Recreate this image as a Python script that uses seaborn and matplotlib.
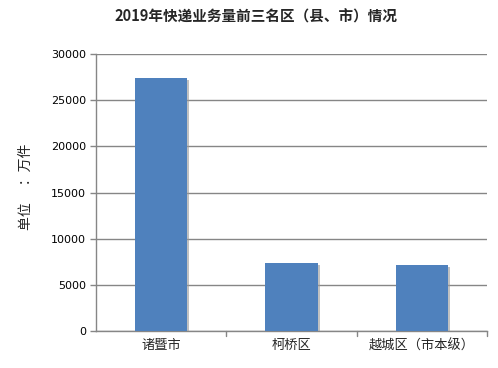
import matplotlib
matplotlib.use("Agg")
import matplotlib.pyplot as plt
import matplotlib.patheffects as pe
import seaborn as sns
import pandas as pd

categories = ["诸暨市", "柯桥区", "越城区（市本级）"]
values = [27400, 7400, 7150]
yticks = [0, 5000, 10000, 15000, 20000, 25000, 30000]
title = "2019年快递业务量前三名区（县、市）情况"
ylabel = "单位　 ：万件"

sns.set_theme(style="white")
plt.rcParams['font.family'] = ['Noto Sans CJK SC', 'DejaVu Sans']

df = pd.DataFrame({"cat": categories, "val": values})

fig = plt.figure(figsize=(4.98, 3.68), dpi=100)
ax = fig.add_axes([96/498, 37/368, (487-96)/498, (331-54)/368])

sns.barplot(data=df, x="cat", y="val", color="#4F81BD", saturation=1, width=0.4, ax=ax, zorder=3)
for p in ax.patches:
    p.set_path_effects([pe.SimplePatchShadow(offset=(1.5, -1.5), shadow_rgbFace="#999999", alpha=0.6), pe.Normal()])
    p.set_edgecolor("none")

ax.set_ylim(0, 30000)
ax.set_xlim(-0.5, 2.5)
ax.set_yticks(yticks)
ax.set_yticklabels([str(v) for v in yticks], fontsize=8, family="DejaVu Sans", color="#000000")
ax.yaxis.grid(True, color="#868686", linewidth=1, zorder=0)
ax.set_axisbelow(True)

ax.set_xticks([0, 1, 2])
ax.set_xticklabels(categories, fontsize=9.5)
ax.tick_params(axis="x", length=0, pad=6)
ax.tick_params(axis="y", length=4, width=1, color="#868686", direction="out", pad=3, left=True)
# category boundary ticks
for xb in [0.5, 1.5, 2.5]:
    ax.plot([xb, xb], [0, -0.018], transform=ax.get_xaxis_transform(), color="#868686", lw=1, clip_on=False)

for s in ["top", "right"]:
    ax.spines[s].set_visible(False)
ax.spines["left"].set_color("#868686")
ax.spines["bottom"].set_color("#868686")
ax.spines["left"].set_linewidth(1)
ax.spines["bottom"].set_linewidth(1)

ax.set_xlabel("")
ax.set_ylabel(ylabel, fontsize=10)
ax.yaxis.set_label_coords(-63/391, 0.52)

fig.text(256/498, 1 - 17/368, title, ha="center", va="center", fontsize=10.5, fontweight="bold")

fig.savefig("out.png", dpi=100)
